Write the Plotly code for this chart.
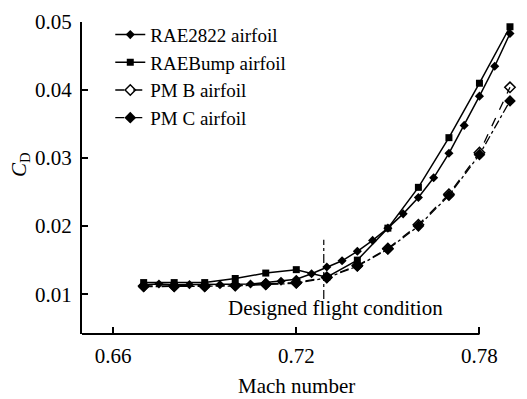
import plotly.graph_objects as go

# ---- data ----
mach_fine = [0.67, 0.675, 0.68, 0.685, 0.69, 0.695, 0.70, 0.705, 0.71, 0.715, 0.72, 0.725,
             0.73, 0.735, 0.74, 0.745, 0.75, 0.755, 0.76, 0.765, 0.77, 0.775, 0.78, 0.785, 0.79]
cd_rae2822 = [0.0114, 0.0115, 0.0114, 0.0114, 0.0114, 0.0114, 0.0115, 0.0115, 0.0117, 0.0119,
              0.0122, 0.0130, 0.0140, 0.0149, 0.0163, 0.0179, 0.0197, 0.0218, 0.0242, 0.0271,
              0.0307, 0.0348, 0.0391, 0.0435, 0.0483]
mach_coarse = [0.67, 0.68, 0.69, 0.70, 0.71, 0.72, 0.73, 0.74, 0.75, 0.76, 0.77, 0.78, 0.79]
cd_raebump = [0.0117, 0.0117, 0.0117, 0.0123, 0.0131, 0.0136, 0.0125, 0.0150, 0.0197, 0.0257,
              0.0330, 0.0410, 0.0493]
cd_pmb = [0.0112, 0.0112, 0.0112, 0.0113, 0.0115, 0.0117, 0.0125, 0.0142, 0.0167, 0.0202,
          0.0247, 0.0308, 0.0404]
cd_pmc = [0.0111, 0.0111, 0.0111, 0.0112, 0.0114, 0.0116, 0.0124, 0.0141, 0.0166, 0.0200,
          0.0245, 0.0305, 0.0384]

x_ticks = [0.66, 0.72, 0.78]
x_tick_labels = ["0.66", "0.72", "0.78"]
y_ticks = [0.01, 0.02, 0.03, 0.04, 0.05]
y_tick_labels = ["0.01", "0.02", "0.03", "0.04", "0.05"]

design_mach = 0.729
design_cd_range = [0.0093, 0.0180]
design_label = "Designed flight condition"
design_label_pos = (0.7328, 0.0079)

FONT = "Liberation Serif, Times New Roman, serif"
FS = 21

fig = go.Figure()
fig.add_trace(go.Scatter(x=mach_fine, y=cd_rae2822, name="RAE2822 airfoil", mode="lines+markers",
                         line=dict(color="black", width=1.5),
                         marker=dict(symbol="diamond", size=7, color="black"), cliponaxis=False))
fig.add_trace(go.Scatter(x=mach_coarse, y=cd_raebump, name="RAEBump airfoil", mode="lines+markers",
                         line=dict(color="black", width=1.5),
                         marker=dict(symbol="square", size=7, color="black"), cliponaxis=False))
fig.add_trace(go.Scatter(x=mach_coarse, y=cd_pmb, name="PM B airfoil", mode="lines+markers",
                         line=dict(color="black", width=1.3, dash="dash"),
                         marker=dict(symbol="diamond-open", size=8, color="black",
                                     line=dict(width=1.5, color="black")), cliponaxis=False))
fig.add_trace(go.Scatter(x=mach_coarse, y=cd_pmc, name="PM C airfoil", mode="lines+markers",
                         line=dict(color="black", width=1.3, dash="dashdot"),
                         marker=dict(symbol="diamond", size=9, color="black"), cliponaxis=False))

# designed-condition marker line
fig.add_shape(type="line", x0=design_mach, x1=design_mach,
              y0=design_cd_range[0], y1=design_cd_range[1],
              line=dict(color="black", width=1.2, dash="dashdot"))
fig.add_annotation(x=design_label_pos[0], y=design_label_pos[1], text=design_label,
                   showarrow=False, font=dict(family=FONT, size=FS, color="black"),
                   xanchor="center", yanchor="middle")

# x-axis line ending at last tick
fig.add_shape(type="line", xref="x", yref="paper", x0=0.6498, x1=x_ticks[-1], y0=0, y1=0,
              line=dict(color="black", width=2))

# axis titles as annotations
fig.add_annotation(xref="paper", yref="paper", x=0.494, y=-0.166, text="Mach number",
                   showarrow=False, font=dict(family=FONT, size=FS, color="black"),
                   xanchor="center", yanchor="middle")
fig.add_annotation(xref="paper", yref="paper", x=-0.143, y=0.544, text="<i>C</i><sub>D</sub>",
                   showarrow=False, textangle=-90,
                   font=dict(family=FONT, size=FS, color="black"), xanchor="center", yanchor="middle")

fig.update_layout(
    width=527, height=399,
    margin=dict(l=82, r=10, t=14, b=65),
    paper_bgcolor="white", plot_bgcolor="white",
    font=dict(family=FONT, size=FS, color="black"),
    showlegend=True,
    legend=dict(x=0.065, y=1.02, xanchor="left", yanchor="top", bgcolor="rgba(0,0,0,0)",
                font=dict(family=FONT, size=19, color="black"), tracegroupgap=0,
                itemwidth=30),
    xaxis=dict(range=[0.6498, 0.7923], tickvals=x_ticks, ticktext=x_tick_labels,
               ticks="inside", ticklen=7, tickwidth=1.5, tickcolor="black",
               showline=False, showgrid=False, zeroline=False, ticklabelstandoff=7),
    yaxis=dict(range=[0.004143, 0.05], tickvals=y_ticks, ticktext=y_tick_labels,
               ticks="inside", ticklen=6, tickwidth=1.5, tickcolor="black",
               showline=True, linecolor="black", linewidth=2,
               showgrid=False, zeroline=False, ticklabelstandoff=4),
)

fig.write_html("out.html")
